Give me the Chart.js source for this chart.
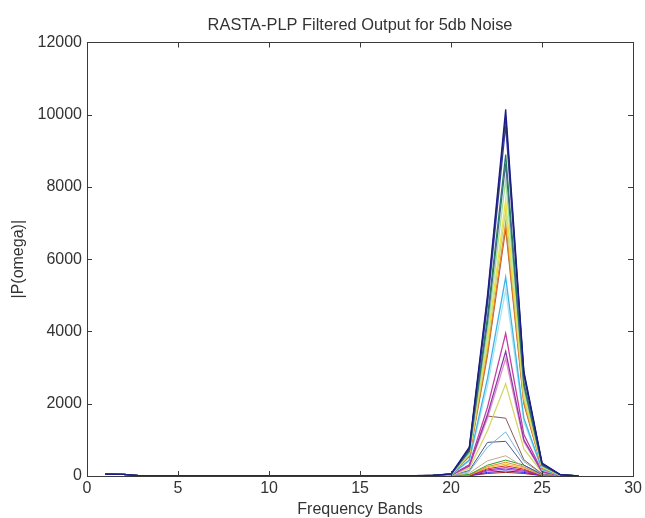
<!DOCTYPE html>
<html>
<head>
<meta charset="utf-8">
<script src="https://cdn.jsdelivr.net/npm/chart.js@4.4.1/dist/chart.umd.min.js"></script>
<style>
  html, body { margin: 0; padding: 0; background: #fff; }
  canvas { display: block; }
</style>
</head>
<body>
<canvas id="myChart" width="645" height="518"></canvas>
<script>
// frequency bands 1..27
var bands = [1,2,3,4,5,6,7,8,9,10,11,12,13,14,15,16,17,18,19,20,21,22,23,24,25,26,27];
// shared low part, bands 1..19
var lowBands = [50,45,6,3,2,2,2,2,2,2,2,2,2,3,3,4,6,10,18];

// each frame, bands 20..27 (first one is drawn on top)
var frame1  = [60, 800, 5000, 10150, 2900, 360, 40, 0];
var frame2  = [55, 760, 4900, 9950, 2850, 340, 35, 0];
var frame3  = [55, 740, 4750, 9700, 2800, 330, 35, 0];
var frame4  = [50, 700, 4400, 8900, 2600, 300, 30, 0];
var frame5  = [50, 680, 4250, 8650, 2500, 290, 30, 0];
var frame6  = [45, 640, 4000, 8200, 2400, 270, 28, 0];
var frame7  = [45, 610, 3750, 7650, 2250, 250, 25, 0];
var frame8  = [40, 590, 3650, 7350, 2150, 240, 25, 0];
var frame9  = [40, 560, 3450, 7000, 2050, 230, 22, 0];
var frame10 = [40, 540, 3350, 6850, 2000, 220, 22, 0];
var frame11 = [35, 440, 2700, 5500, 1600, 180, 18, 0];
var frame12 = [30, 410, 2500, 5150, 1500, 170, 18, 0];
var frame13 = [28, 310, 1900, 3950, 1150, 130, 14, 0];
var frame14 = [25, 280, 1700, 3450, 1000, 115, 12, 0];
var frame15 = [25, 260, 1600, 3250, 950, 110, 12, 0];
var frame16 = [20, 210, 1250, 2550, 750, 90, 10, 0];
var frame17 = [18, 300, 1660, 1600, 450, 60, 8, 0];
var frame18 = [15, 120, 800, 1220, 400, 50, 6, 0];
var frame19 = [12, 150, 930, 960, 300, 40, 5, 0];
var frame20 = [10, 80, 420, 560, 250, 40, 5, 0];
var frame21 = [8, 40, 300, 440, 300, 40, 4, 0];
var frame22 = [6, 30, 260, 380, 250, 30, 3, 0];
var frame23 = [6, 25, 230, 330, 220, 25, 3, 0];
var frame24 = [5, 20, 200, 280, 190, 20, 2, 0];
var frame25 = [5, 15, 170, 230, 160, 18, 2, 0];
var frame26 = [4, 12, 140, 190, 130, 15, 2, 0];
var frame27 = [3, 10, 100, 140, 100, 12, 1, 0];
var frame28 = [3, 8, 70, 100, 70, 8, 1, 0];

var frames = [frame1, frame2, frame3, frame4, frame5, frame6, frame7, frame8, frame9, frame10,
  frame11, frame12, frame13, frame14, frame15, frame16, frame17, frame18, frame19, frame20,
  frame21, frame22, frame23, frame24, frame25, frame26, frame27, frame28];

var colors = ['#1c1c8a', '#2b3a55', '#3a3ab0', '#2a7a6a', '#4a6a8a', '#9fe09f', '#e6e64a', '#c9d97a',
  '#e88a2a', '#b8553a', '#3fb5e5', '#a8e4f2', '#c43fa5', '#8a3aa8', '#e48ac8', '#d6d66a',
  '#8a5a5a', '#78b8d8', '#4a5a8a', '#c8a888', '#2aa02a', '#f0882a', '#e6c020', '#e02424',
  '#7a24c4', '#c424a0', '#2424e0', '#a02020'];

var xTicks = [0, 5, 10, 15, 20, 25, 30];
var yTicks = [0, 2000, 4000, 6000, 8000, 10000, 12000];

var fontFamily = '"Liberation Sans", Arial, Helvetica, sans-serif';
var textColor = '#333';

// MATLAB style box with inward ticks
var boxPlugin = {
  id: 'box',
  afterDraw: function(chart) {
    var ctx = chart.ctx;
    var a = chart.chartArea;
    var xs = chart.scales.x, ys = chart.scales.y;
    ctx.save();
    ctx.strokeStyle = '#3a3a3a';
    ctx.lineWidth = 1;
    ctx.strokeRect(Math.round(a.left) + 0.5, Math.round(a.top) + 0.5,
      Math.round(a.right - a.left), Math.round(a.bottom - a.top));
    ctx.beginPath();
    xTicks.forEach(function(v) {
      var px = Math.round(xs.getPixelForValue(v)) + 0.5;
      ctx.moveTo(px, a.bottom); ctx.lineTo(px, a.bottom - 5);
      ctx.moveTo(px, a.top); ctx.lineTo(px, a.top + 5);
    });
    yTicks.forEach(function(v) {
      var py = Math.round(ys.getPixelForValue(v)) + 0.5;
      ctx.moveTo(a.left, py); ctx.lineTo(a.left + 5, py);
      ctx.moveTo(a.right, py); ctx.lineTo(a.right - 5, py);
    });
    ctx.stroke();
    ctx.restore();
  }
};

function makeChart() {
  var datasets = frames.map(function(f, i) {
    var values = lowBands.concat(f);
    return {
      data: bands.map(function(b, j) { return {x: b, y: values[j]}; }),
      borderColor: colors[i],
      borderWidth: i < 16 ? 1.3 : 1,
      pointRadius: 0,
      fill: false,
      tension: 0
    };
  });

  var ctx = document.getElementById('myChart').getContext('2d');
  new Chart(ctx, {
    type: 'line',
    data: { datasets: datasets },
    options: {
      responsive: false,
      animation: false,
      layout: { padding: { top: 0, right: 8, bottom: 0, left: 0 } },
      plugins: {
        legend: { display: false },
        tooltip: { enabled: false },
        title: {
          display: true,
          fullSize: false,
          text: 'RASTA-PLP Filtered Output for 5db Noise',
          color: textColor,
          font: { family: fontFamily, size: 16.4, weight: 'normal', lineHeight: 1.2 },
          padding: { top: 15.4, bottom: 7.4 }
        }
      },
      scales: {
        x: {
          type: 'linear', min: 0, max: 30,
          grid: { display: false, drawTicks: false },
          border: { display: false },
          ticks: { stepSize: 5, color: textColor, padding: 3, maxRotation: 0,
            font: { family: fontFamily, size: 16, lineHeight: 1.2 },
            callback: function(v) { return String(v); } },
          title: { display: true, text: 'Frequency Bands', color: textColor,
            font: { family: fontFamily, size: 16, lineHeight: 1 }, padding: { top: 0, bottom: 0.5 } },
          afterFit: function(s) { s.height = 42; }
        },
        y: {
          min: 0, max: 12000,
          grid: { display: false, drawTicks: false },
          border: { display: false },
          ticks: { stepSize: 2000, color: textColor, padding: 5,
            font: { family: fontFamily, size: 16 },
            callback: function(v) { return String(v); } },
          title: { display: true, text: '|P(omega)|', color: textColor,
            font: { family: fontFamily, size: 16, lineHeight: 1 }, padding: { top: 11, bottom: 0 } },
          afterFit: function(s) { s.width = 87; }
        }
      }
    },
    plugins: [boxPlugin]
  });
}

makeChart();
</script>
</body>
</html>
